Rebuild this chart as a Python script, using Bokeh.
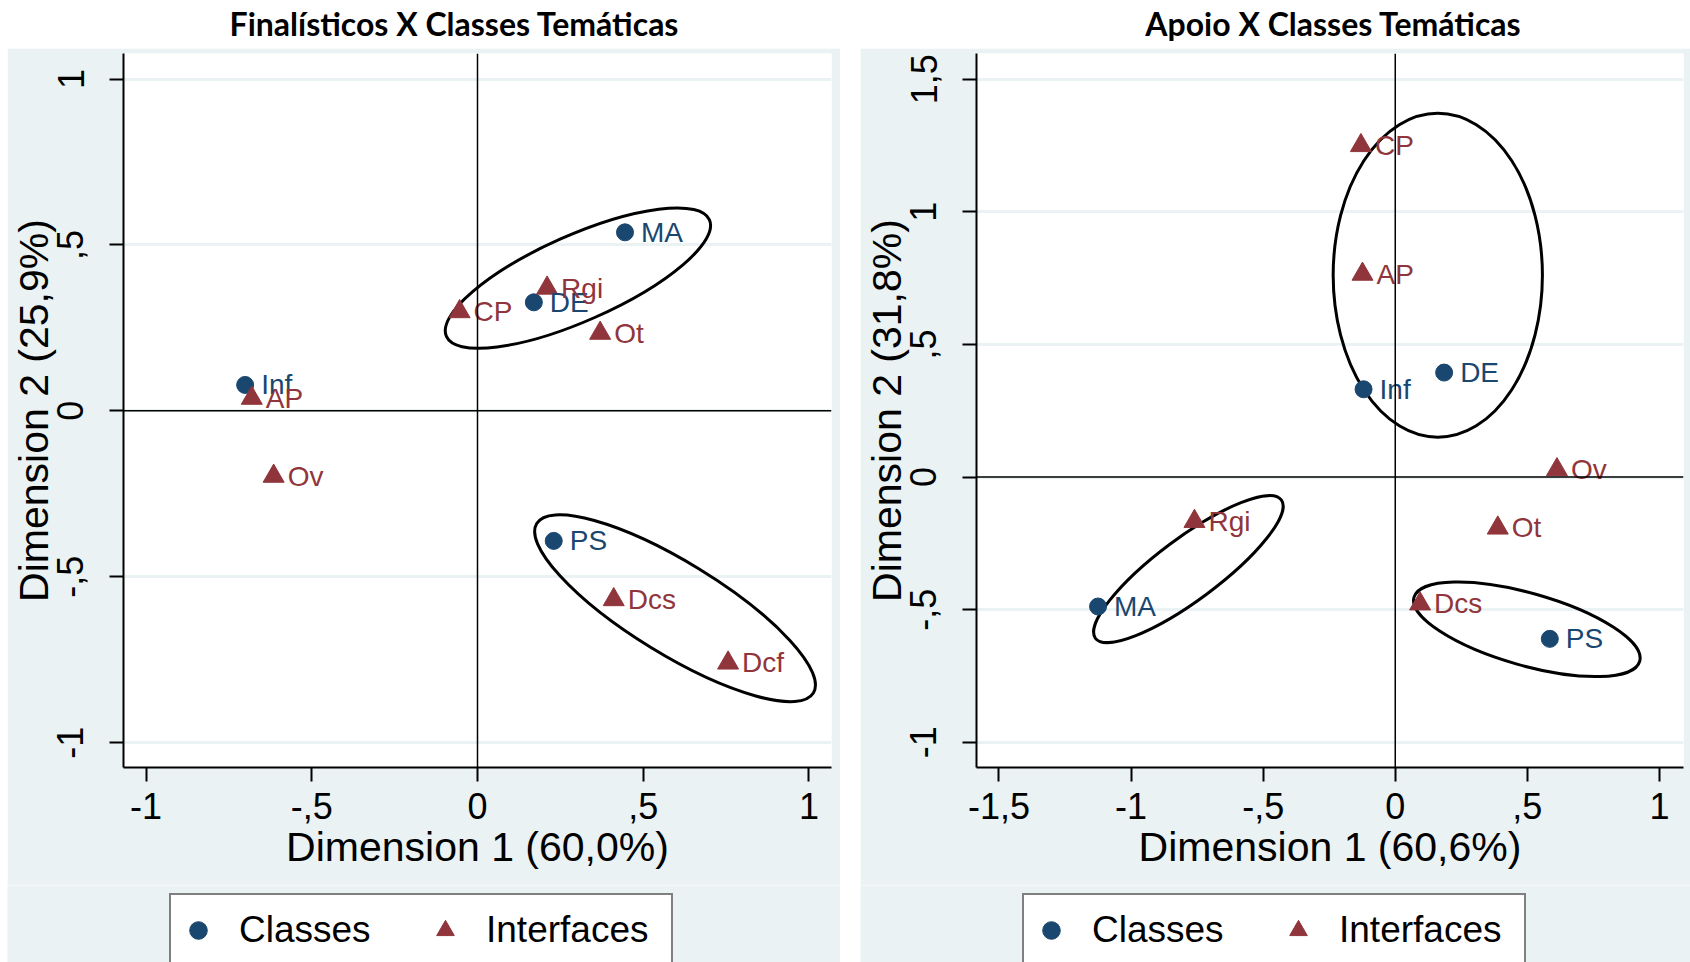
from bokeh.plotting import figure
from bokeh.layouts import row, column
from bokeh.models import Span, Label, Legend, LegendItem, FixedTicker, Range1d
from bokeh.core.properties import value
from bokeh.embed import file_html
from bokeh.resources import INLINE

BLUE = "#1a476f"
RED = "#90353b"
BG = "#eaf2f3"
FONT = "Liberation Sans"

# ---------------- Data: left panel (Finalísticos) ----------------
f_title = "Finalísticos X Classes Temáticas"
f_xlabel = "Dimension 1 (60,0%)"
f_ylabel = "Dimension 2 (25,9%)"
f_class_names = ["MA", "DE", "Inf", "PS"]
f_class_x = [0.445, 0.170, -0.701, 0.230]
f_class_y = [0.538, 0.327, 0.078, -0.392]
f_int_names = ["Rgi", "CP", "Ot", "AP", "Ov", "Dcs", "Dcf"]
f_int_x = [0.210, -0.054, 0.370, -0.681, -0.615, 0.411, 0.756]
f_int_y = [0.370, 0.299, 0.234, 0.038, -0.197, -0.569, -0.760]
f_ell_x = [0.303, 0.596]
f_ell_y = [0.400, -0.595]
f_ell_w = [0.868, 0.979]
f_ell_h = [0.258, 0.278]
f_ell_angle = [0.417, -0.550]
f_xticks = [-1, -0.5, 0, 0.5, 1]
f_xtick_labels = ["-1", "-,5", "0", ",5", "1"]
f_yticks = [-1, -0.5, 0, 0.5, 1]
f_ytick_labels = ["-1", "-,5", "0", ",5", "1"]

# ---------------- Data: right panel (Apoio) ----------------
a_title = "Apoio X Classes Temáticas"
a_xlabel = "Dimension 1 (60,6%)"
a_ylabel = "Dimension 2 (31,8%)"
a_class_names = ["DE", "Inf", "MA", "PS"]
a_class_x = [0.185, -0.120, -1.125, 0.585]
a_class_y = [0.394, 0.331, -0.488, -0.610]
a_int_names = ["CP", "AP", "Ov", "Rgi", "Ot", "Dcs"]
a_int_x = [-0.130, -0.124, 0.612, -0.760, 0.388, 0.094]
a_int_y = [1.250, 0.765, 0.028, -0.167, -0.192, -0.478]
a_ell_x = [0.161, -0.783, 0.498]
a_ell_y = [0.761, -0.347, -0.574]
a_ell_w = [0.792, 0.877, 0.888]
a_ell_h = [1.222, 0.234, 0.273]
a_ell_angle = [0.0, 0.640, -0.276]
a_xticks = [-1.5, -1, -0.5, 0, 0.5, 1]
a_xtick_labels = ["-1,5", "-1", "-,5", "0", ",5", "1"]
a_yticks = [-1, -0.5, 0, 0.5, 1, 1.5]
a_ytick_labels = ["-1", "-,5", "0", ",5", "1", "1,5"]

legend_labels = ["Classes", "Interfaces"]

TITLE_H = 48
MAIN_H = 837
LEG_H = 77


def title_fig(text, cx, w):
    t = figure(width=w, height=TITLE_H, x_range=Range1d(0, w), y_range=Range1d(0, TITLE_H),
               toolbar_location=None, output_backend="svg", min_border=0,
               x_axis_location=None, y_axis_location=None)
    t.grid.visible = False
    t.outline_line_color = None
    t.border_fill_color = "white"
    t.background_fill_color = "white"
    t.add_layout(Label(x=cx, y=TITLE_H - 23, text=text, text_align="center",
                       text_baseline="middle", text_font="Lato",
                       text_font_style="bold", text_font_size="32px",
                       text_color="black"))
    return t


def panel(xr, yr, w, mbl, mbr, xticks, xlabs, yticks, ylabs, xlabel, ylabel,
          cx, cy, cn, ix, iy, iname, ex, ey, ew, eh, ea):
    p = figure(width=w, height=MAIN_H, x_range=Range1d(*xr), y_range=Range1d(*yr),
               toolbar_location=None, output_backend="svg",
               min_border_left=mbl, min_border_right=mbr,
               min_border_top=5, min_border_bottom=MAIN_H - 719)
    p.border_fill_color = BG
    p.background_fill_color = "white"
    p.outline_line_color = None
    p.xgrid.visible = False
    p.ygrid.grid_line_color = BG
    p.ygrid.grid_line_width = 3
    p.ygrid.ticker = FixedTicker(ticks=yticks)

    p.xaxis.ticker = FixedTicker(ticks=xticks)
    p.yaxis.ticker = FixedTicker(ticks=yticks)
    p.xaxis.major_label_overrides = {float(t): l for t, l in zip(xticks, xlabs)}
    p.yaxis.major_label_overrides = {float(t): l for t, l in zip(yticks, ylabs)}
    p.yaxis.major_label_orientation = "vertical"
    for ax in (p.xaxis, p.yaxis):
        ax.axis_line_color = "black"
        ax.axis_line_width = 2
        ax.major_tick_line_color = "black"
        ax.major_tick_line_width = 2
        ax.major_tick_out = 14
        ax.major_tick_in = 0
        ax.minor_tick_line_color = None
        ax.major_label_text_font = FONT
        ax.major_label_text_font_size = "36px"
        ax.major_label_text_color = "black"
        ax.axis_label_text_font = FONT
        ax.axis_label_text_font_size = "41px"
        ax.axis_label_text_font_style = "normal"
        ax.axis_label_text_color = "black"
    p.xaxis.major_label_standoff = 11
    p.xaxis.axis_label_standoff = 2
    p.yaxis.major_label_standoff = 26
    p.yaxis.axis_label_standoff = -2
    p.xaxis.axis_label = xlabel
    p.yaxis.axis_label = ylabel

    p.add_layout(Span(location=0, dimension="width", line_color="black", line_width=1.5))
    p.add_layout(Span(location=0, dimension="height", line_color="black", line_width=1.5))

    p.ellipse(x=ex, y=ey, width=ew, height=eh, angle=ea, fill_color=None,
              line_color="black", line_width=3)

    p.scatter(cx, cy, marker="circle", size=17, fill_color=BLUE, line_color=BLUE)
    p.scatter(ix, iy, marker="triangle", size=21, fill_color=RED, line_color=RED)
    p.text(cx, cy, text=cn, x_offset=16, text_align="left", text_baseline="middle",
           text_font=value(FONT), text_font_size="28px", text_color=BLUE)
    p.text(ix, iy, text=iname, x_offset=14, text_align="left", text_baseline="middle",
           text_font=value(FONT), text_font_size="28px", text_color=RED)
    return p


def legend_fig(w, box_left):
    l = figure(width=w, height=LEG_H, x_range=Range1d(0, 1), y_range=Range1d(0, 1),
               toolbar_location=None, output_backend="svg", min_border=0,
               x_axis_location=None, y_axis_location=None)
    l.grid.visible = False
    l.outline_line_color = None
    l.border_fill_color = BG
    l.background_fill_color = BG
    # legend keys only: one off-screen point each so the key glyphs are drawn
    r1 = l.scatter([-10], [-10], marker="circle", size=17, fill_color=BLUE, line_color=BLUE)
    r2 = l.scatter([-10], [-10], marker="triangle", size=21, fill_color=RED, line_color=RED)
    legend = Legend(items=[LegendItem(label=legend_labels[0], renderers=[r1]),
                           LegendItem(label=legend_labels[1], renderers=[r2])],
                    orientation="horizontal", location=(box_left, -5))
    legend.border_line_color = "black"
    legend.border_line_width = 2
    legend.background_fill_color = "white"
    legend.background_fill_alpha = 1
    legend.label_text_font = FONT
    legend.label_text_font_size = "37px"
    legend.label_text_color = "black"
    legend.glyph_width = 44
    legend.glyph_height = 60
    legend.label_height = 60
    legend.label_width = 180
    legend.label_standoff = 19
    legend.spacing = 4
    legend.padding = 5
    legend.margin = 0
    l.add_layout(legend, "center")
    return l


t1 = title_fig(f_title, 454, 845)
t2 = title_fig(a_title, 488, 845)

p1 = panel((-1.068, 1.068), (-1.075, 1.077), 833, 116, 9,
           f_xticks, f_xtick_labels, f_yticks, f_ytick_labels, f_xlabel, f_ylabel,
           f_class_x, f_class_y, f_class_names, f_int_x, f_int_y, f_int_names,
           f_ell_x, f_ell_y, f_ell_w, f_ell_h, f_ell_angle)
p1.margin = (0, 5, 0, 7)

p2 = panel((-1.585, 1.091), (-1.095, 1.597), 830, 116, 7,
           a_xticks, a_xtick_labels, a_yticks, a_ytick_labels, a_xlabel, a_ylabel,
           a_class_x, a_class_y, a_class_names, a_int_x, a_int_y, a_int_names,
           a_ell_x, a_ell_y, a_ell_w, a_ell_h, a_ell_angle)
p2.margin = (0, 0, 0, 15)

l1 = legend_fig(833, 162)
l1.margin = (0, 5, 0, 7)
l2 = legend_fig(830, 162)
l2.margin = (0, 0, 0, 15)

layout = column(row(t1, t2), row(p1, p2), row(l1, l2))
open("out.html", "w").write(file_html(layout, INLINE))
